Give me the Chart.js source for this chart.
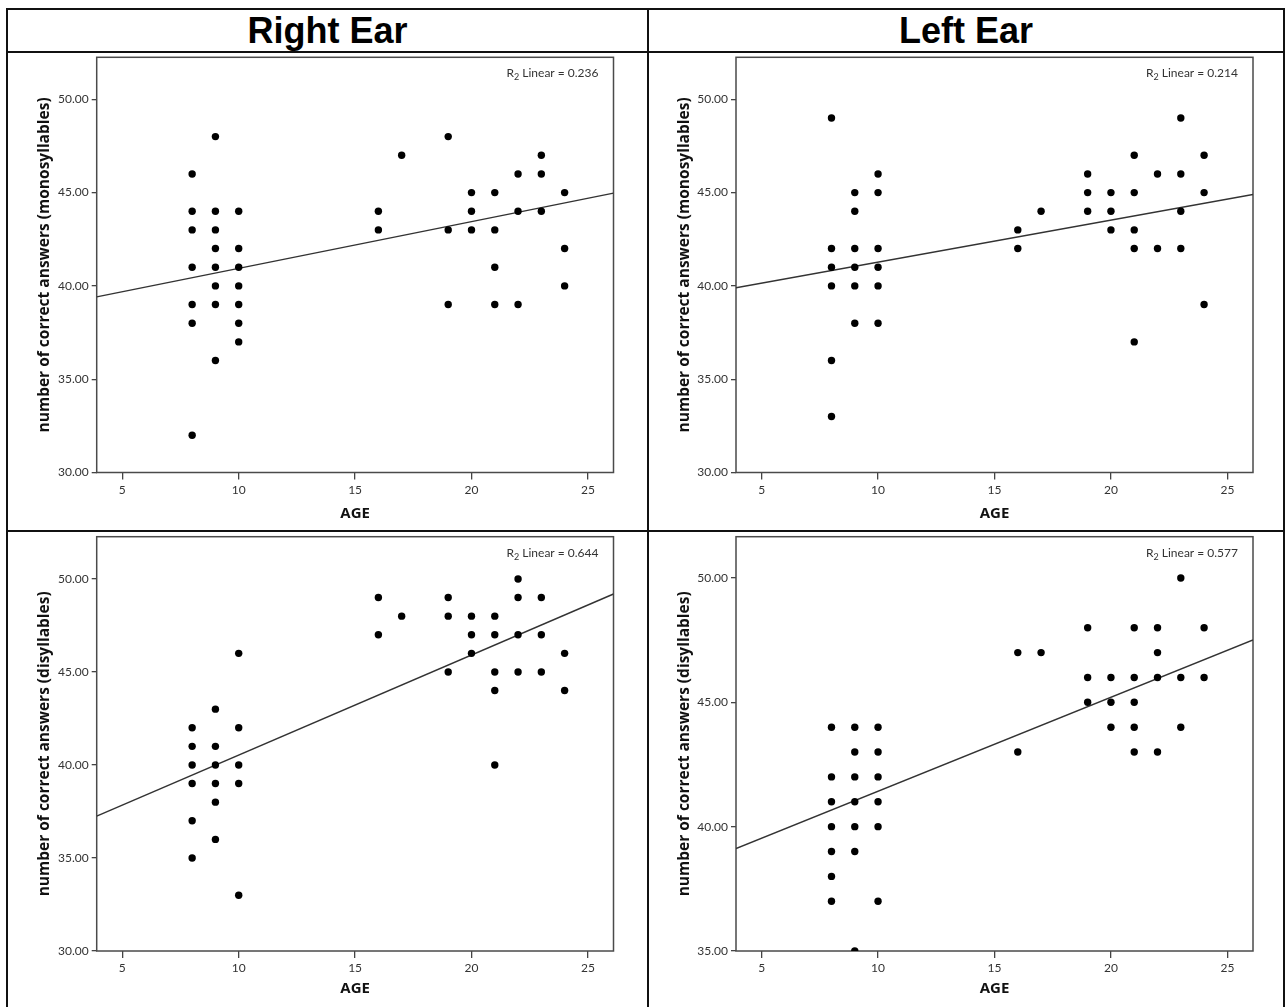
<!DOCTYPE html>
<html>
<head>
<meta charset="utf-8">
<script src="https://cdn.jsdelivr.net/npm/chart.js@4.4.1/dist/chart.umd.min.js"></script>
<style>
  html, body { margin: 0; padding: 0; background: #fff; }
  #page { position: relative; width: 1285px; height: 1007px; overflow: hidden; }
  .rule { position: absolute; background: #111; }
  .hdr { position: absolute; top: 10px; height: 41px; line-height: 41px; text-align: center;
         font-family: "Liberation Sans", Arial, sans-serif; font-weight: bold; font-size: 36px; color: #000; }
  canvas { position: absolute; }
</style>
</head>
<body>
<div id="page">
  <div class="rule" style="left:6px; top:8px; width:1279px; height:2px"></div>
  <div class="rule" style="left:6px; top:51px; width:1279px; height:2px"></div>
  <div class="rule" style="left:6px; top:530px; width:1279px; height:2px"></div>
  <div class="rule" style="left:6px; top:8px; width:2px; height:999px"></div>
  <div class="rule" style="left:647px; top:8px; width:2px; height:999px"></div>
  <div class="rule" style="left:1283px; top:8px; width:2px; height:999px"></div>
  <div class="hdr" style="left:8px; width:639px">Right Ear</div>
  <div class="hdr" style="left:649px; width:634px">Left Ear</div>
  <canvas id="rightMono" width="640" height="478" style="left:8px; top:52px"></canvas>
  <canvas id="leftMono" width="634" height="478" style="left:649px; top:52px"></canvas>
  <canvas id="rightDi" width="640" height="475" style="left:8px; top:532px"></canvas>
  <canvas id="leftDi" width="634" height="475" style="left:649px; top:532px"></canvas>
</div>
<script>
// ===== Data =====
const ages = [8, 9, 10, 16, 17, 19, 20, 21, 22, 23, 24];

// scores per age, same order as `ages`
const rightMonoScores = [
    [46, 44, 43, 41, 39, 38, 32], [48, 44, 43, 42, 41, 40, 39, 36], [44, 42, 41, 40, 39, 38, 37],
    [44, 43], [47], [48, 43, 39], [45, 44, 43], [45, 43, 41, 39], [46, 44, 39], [47, 46, 44], [45, 42, 40]
];
const leftMonoScores = [
    [49, 42, 41, 40, 36, 33], [45, 44, 42, 41, 40, 38], [46, 45, 42, 41, 40, 38],
    [43, 42], [44], [46, 45, 44], [45, 44, 43], [47, 45, 43, 42, 37], [46, 42], [49, 46, 44, 42], [47, 45, 39]
];
const rightDiScores = [
    [42, 41, 40, 39, 37, 35], [43, 41, 40, 39, 38, 36], [46, 42, 40, 39, 33],
    [49, 47], [48], [49, 48, 45], [48, 47, 46], [48, 47, 45, 44, 40], [50, 49, 47, 45], [49, 47, 45], [46, 44]
];
const leftDiScores = [
    [44, 42, 41, 40, 39, 38, 37], [44, 43, 42, 41, 40, 39, 35], [44, 43, 42, 41, 40, 37],
    [47, 43], [47], [48, 46, 45], [46, 45, 44], [48, 46, 45, 44, 43], [48, 47, 46, 43], [50, 46, 44], [48, 46]
];

// fit line: value at each end of the age axis
const fitAges = [3.9, 26.1];
const rightMonoFit = [39.41, 44.97];
const leftMonoFit = [39.90, 44.90];
const rightDiFit = [37.25, 49.19];
const leftDiFit = [39.12, 47.51];

const r2Labels = ['0.236', '0.214', '0.644', '0.577'];

const xTicks = [5, 10, 15, 20, 25];
const yTicksWide = [30, 35, 40, 45, 50];
const yTicksNarrow = [35, 40, 45, 50];

// ===== Plugins =====
const frameBox = {
    id: 'frameBox',
    beforeDatasetsDraw(chart) {
        const a = chart.chartArea, ctx = chart.ctx;
        ctx.save();
        ctx.strokeStyle = '#4a4a4a';
        ctx.lineWidth = 1.5;
        ctx.strokeRect(a.left, a.top, a.right - a.left, a.bottom - a.top);
        ctx.restore();
    }
};

const r2Label = {
    id: 'r2Label',
    afterDraw(chart, args, opts) {
        const a = chart.chartArea, ctx = chart.ctx;
        const rest = ' Linear = ' + opts.value;
        ctx.save();
        ctx.fillStyle = '#333';
        ctx.textBaseline = 'alphabetic';
        ctx.font = '12px Lato';
        const wR = ctx.measureText('R').width, wRest = ctx.measureText(rest).width;
        ctx.font = '9px Lato';
        const wSub = ctx.measureText('2').width;
        const right = a.right - 15;
        const base = a.top + 20;
        let x = right - wR - wSub - wRest;
        ctx.font = '12px Lato';
        ctx.fillText('R', x, base);
        x += wR;
        ctx.font = '9px Lato';
        ctx.fillText('2', x, base + 3);
        x += wSub;
        ctx.font = '12px Lato';
        ctx.fillText(rest, x, base);
        ctx.restore();
    }
};

// ===== Panel builder =====
function toPoints(scores) {
    const pts = [];
    ages.forEach((age, i) => scores[i].forEach(s => pts.push({ x: age, y: s })));
    return pts;
}

function makePanel(id, scores, fit, r2, yTitle, yMin, yMax, yTicks, box) {
    const ctx = document.getElementById(id).getContext('2d');
    return new Chart(ctx, {
        type: 'scatter',
        data: {
            datasets: [
                { data: toPoints(scores), pointRadius: 3.7, pointBackgroundColor: '#000', pointBorderWidth: 0 },
                { data: fitAges.map((a, i) => ({ x: a, y: fit[i] })), showLine: true, borderColor: '#333',
                  borderWidth: 1.4, pointRadius: 0 }
            ]
        },
        options: {
            responsive: false,
            animation: false,
            layout: { padding: { left: 0, top: box.top, right: box.right, bottom: 0 } },
            plugins: { legend: { display: false }, tooltip: { enabled: false }, r2Label: { value: r2 } },
            scales: {
                x: {
                    type: 'linear', min: fitAges[0], max: fitAges[1],
                    afterBuildTicks: s => { s.ticks = xTicks.map(v => ({ value: v })); },
                    afterFit: s => { s.height = box.xAxis; s.paddingLeft = 0; s.paddingRight = 0; },
                    grid: { drawOnChartArea: false, drawTicks: true, tickLength: 7, color: '#444', lineWidth: 1.3 },
                    border: { display: false },
                    ticks: { padding: 3, color: '#333', maxRotation: 0, font: { family: 'Lato', size: 12 } },
                    title: { display: true, text: 'AGE', color: '#111', padding: { top: 0, bottom: box.ageGap },
                             font: { family: 'Open Sans', size: 15, weight: 'bold' } }
                },
                y: {
                    type: 'linear', min: yMin, max: yMax,
                    afterBuildTicks: s => { s.ticks = yTicks.map(v => ({ value: v })); },
                    afterFit: s => { s.width = box.yAxis; s.paddingTop = 0; s.paddingBottom = 0; },
                    grid: { drawOnChartArea: false, drawTicks: true, tickLength: 5, color: '#444', lineWidth: 1.3 },
                    border: { display: false },
                    ticks: { padding: 3, color: '#333', font: { family: 'Lato', size: 12 },
                             callback: v => Number(v).toFixed(2) },
                    title: { display: true, text: yTitle, color: '#111', padding: { top: box.titleGap, bottom: 0 },
                             font: { family: 'Open Sans', size: 15.5, weight: 'bold' } }
                }
            }
        },
        plugins: [frameBox, r2Label]
    });
}

const monoTitle = 'number of correct answers (monosyllables)';
const diTitle = 'number of correct answers (disyllables)';

makePanel('rightMono', rightMonoScores, rightMonoFit, r2Labels[0], monoTitle, 30, 52.25, yTicksWide,
    { top: 5.3, right: 34.5, xAxis: 57.5, yAxis: 88.7, ageGap: 7, titleGap: 27.7 });
makePanel('leftMono', leftMonoScores, leftMonoFit, r2Labels[1], monoTitle, 30, 52.25, yTicksWide,
    { top: 5.3, right: 30, xAxis: 57.5, yAxis: 87, ageGap: 7, titleGap: 26.7 });
makePanel('rightDi', rightDiScores, rightDiFit, r2Labels[2], diTitle, 30, 52.27, yTicksWide,
    { top: 4.7, right: 34.5, xAxis: 56, yAxis: 88.7, ageGap: 9, titleGap: 27.7 });
makePanel('leftDi', leftDiScores, leftDiFit, r2Labels[3], diTitle, 35, 51.66, yTicksNarrow,
    { top: 4.7, right: 30, xAxis: 56, yAxis: 87, ageGap: 9, titleGap: 26.7 });
</script>
</body>
</html>
